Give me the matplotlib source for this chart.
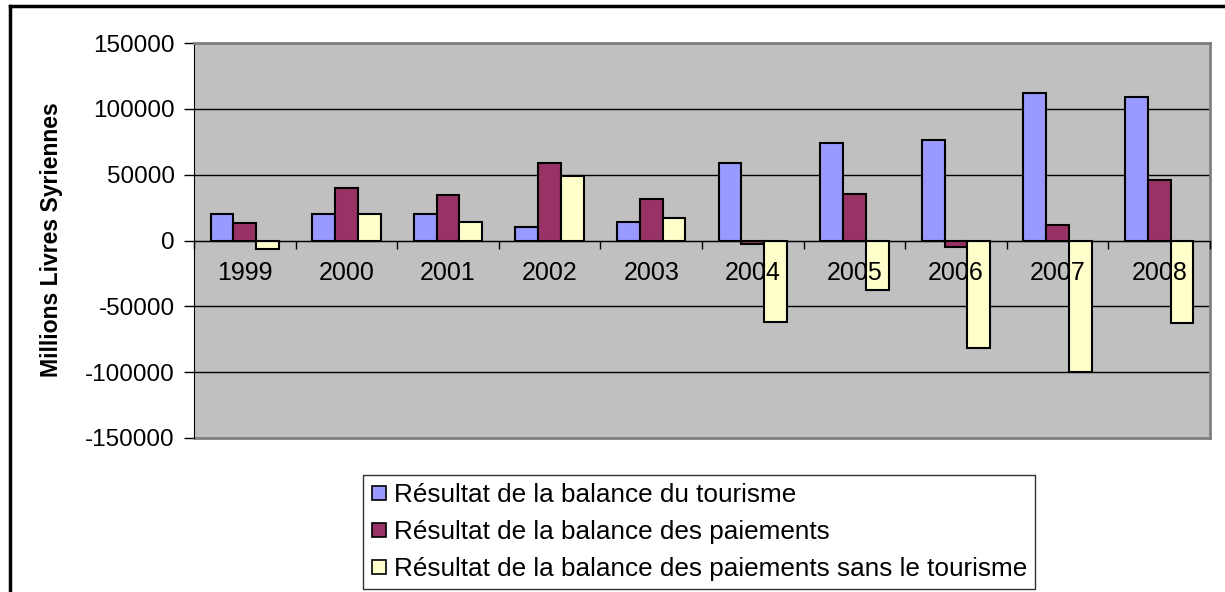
import numpy as np
import matplotlib.pyplot as plt
from matplotlib.lines import Line2D

plt.rcParams['font.family'] = ['Liberation Sans', 'DejaVu Sans']
plt.rcParams['axes.unicode_minus'] = False

years = ["1999", "2000", "2001", "2002", "2003", "2004", "2005", "2006", "2007", "2008"]
tourisme = [20000, 20000, 20000, 10300, 14400, 59100, 73800, 76300, 111900, 109100]
paiements = [13100, 39600, 34300, 58800, 31300, -2500, 35600, -5000, 12100, 46200]
sans_tourisme = [-6500, 20000, 14400, 48700, 17100, -61800, -37900, -81300, -100000, -62900]

labels = ["Résultat de la balance du tourisme",
          "Résultat de la balance des paiements",
          "Résultat de la balance des paiements sans le tourisme"]
colors = ["#9999FF", "#993366", "#FFFFCC"]

fig = plt.figure(figsize=(12.25, 5.92), dpi=100)
ax = fig.add_axes([194 / 1225, 1 - 438 / 592, (1210 - 194) / 1225, (438 - 43) / 592])
ax.set_facecolor("#C0C0C0")

x = np.arange(len(years))
w = 0.225
for i, (vals, c, lab) in enumerate(zip([tourisme, paiements, sans_tourisme], colors, labels)):
    ax.bar(x + (i - 1) * w, vals, w, color=c, edgecolor="black", linewidth=1.5,
           label=lab, zorder=3)

ax.set_xlim(-0.5, len(years) - 0.5)
ax.set_ylim(-150000, 150000)
ax.set_yticks(np.arange(-150000, 150001, 50000))
ax.yaxis.grid(True, color="black", linewidth=1, zorder=1)
ax.tick_params(axis="y", labelsize=17.5, length=7, width=1, direction="out", pad=7)

ax.spines["bottom"].set_position(("data", 0))
ax.spines["bottom"].set_zorder(4)
ax.spines["bottom"].set_color("black")
ax.spines["left"].set_color("black")
for s in ["top", "right"]:
    ax.spines[s].set_color("#808080")
    ax.spines[s].set_linewidth(2)

ax.set_xticks(x)
ax.set_xticklabels(years)
ax.set_xticks(np.arange(-0.5, len(years), 1), minor=True)
ax.tick_params(axis="x", which="major", length=0, labelsize=18, pad=15)
ax.tick_params(axis="x", which="minor", length=6, width=1, direction="out")
ax.xaxis.set_zorder(5)

# grey bottom edge of plot area
ax.axhline(-150000, color="#808080", linewidth=2, zorder=2, clip_on=False)

fig.text(52 / 1225, 1 - 240 / 592, "Millions Livres Syriennes", rotation=90,
         ha="center", va="center", fontsize=16.6, fontweight="bold")

handles = [Line2D([], [], marker="s", linestyle="none", markersize=10,
                  markerfacecolor=c, markeredgecolor="black", markeredgewidth=1.2)
           for c in colors]
leg = fig.legend(handles, labels, loc="upper left",
                 bbox_to_anchor=(363 / 1225, 1 - 475 / 592), fontsize=18.8,
                 frameon=True, fancybox=False, edgecolor="black",
                 handlelength=0.6, handletextpad=0.3, labelspacing=0.5,
                 borderpad=0.3, borderaxespad=0)
leg.get_frame().set_linewidth(1)

# outer chart border
fig.add_artist(Line2D([10 / 1225, 1], [1 - 6 / 592, 1 - 6 / 592], color="black",
                      linewidth=2.5, transform=fig.transFigure))
fig.add_artist(Line2D([10 / 1225, 10 / 1225], [0, 1 - 6 / 592], color="black",
                      linewidth=2.5, transform=fig.transFigure))

fig.savefig("out.png", dpi=100)
